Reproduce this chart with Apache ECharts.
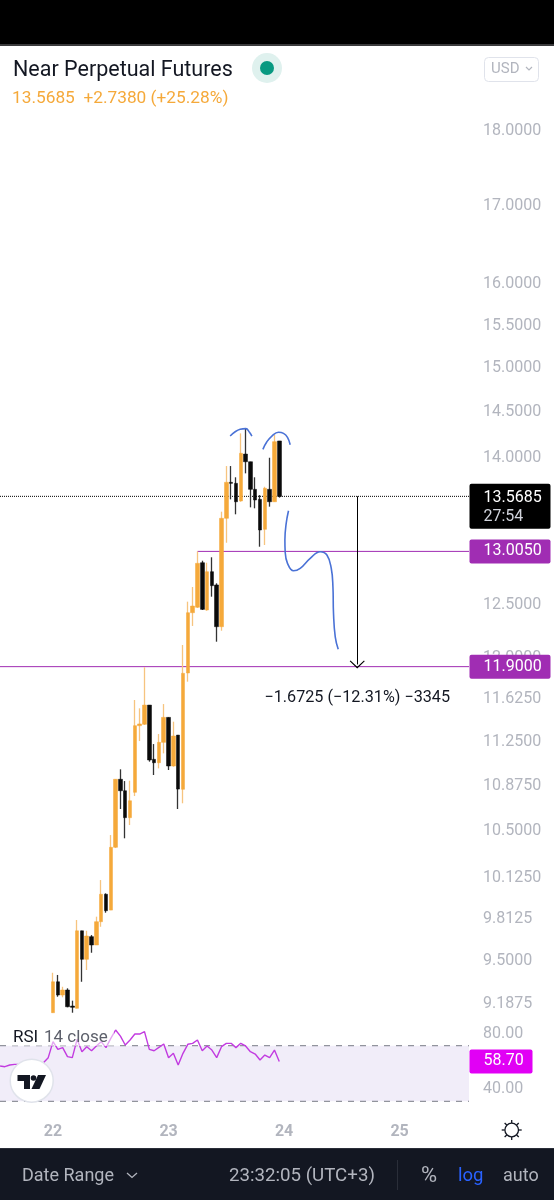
<!DOCTYPE html>
<html><head><meta charset="utf-8">
<script src="https://cdn.jsdelivr.net/npm/echarts@6/dist/echarts.min.js"></script>
<style>html,body{margin:0;padding:0;background:#fff}#c{width:554px;height:1200px}</style>
</head><body><div id="c"></div>
<script>
// Hourly candles; hour 0 = day 22 00:00
const opens  = [9.115,9.335,9.240,9.276,9.162,9.146,9.709,9.498,9.665,9.603,9.777,9.986,9.865,10.354,10.911,10.815,10.593,10.802,11.371,11.383,11.553,11.080,11.051,11.226,11.444,11.023,11.289,10.827,11.842,12.405,12.457,12.892,12.431,12.803,12.673,12.272,13.341,13.716,13.705,13.520,14.018,13.935,13.642,13.537,13.228,13.642,13.512,14.160];
const closes = [9.335,9.240,9.276,9.157,9.153,9.709,9.498,9.670,9.603,9.777,9.986,9.860,10.354,10.911,10.815,10.593,10.732,11.371,11.386,11.553,11.074,11.051,11.226,11.444,11.023,11.281,10.829,11.839,12.405,12.469,12.886,12.437,12.803,12.666,12.272,13.341,13.716,13.705,13.512,14.026,13.935,13.642,13.530,13.221,13.653,13.512,14.152,13.5685];
const lows   = [9.115,9.228,9.224,9.153,9.115,9.146,9.335,9.420,9.546,9.603,9.739,9.845,9.865,10.348,10.664,10.426,10.533,10.771,11.237,11.377,11.060,10.947,11.003,11.131,10.989,11.017,10.664,10.711,11.763,12.279,12.450,12.431,12.424,12.559,12.131,12.234,13.092,13.537,13.382,13.512,13.811,13.454,13.444,13.052,13.069,13.461,13.512,13.555];
const highs  = [9.400,9.384,9.299,9.288,9.200,9.790,9.709,9.709,9.677,9.815,10.096,9.993,10.452,10.911,10.995,10.896,10.899,11.598,11.524,11.894,11.553,11.211,11.298,11.562,11.444,11.406,11.289,12.100,12.511,12.653,13.005,12.912,12.892,12.946,12.689,13.409,13.889,13.889,13.769,14.243,14.298,13.935,13.769,13.582,13.669,13.978,14.225,14.160];

// RSI starts 11 hours before the first visible candle
const rsiStartHour = -11;
const rsiValues = [55.4,54.9,56.1,56.6,56.6,56.1,56.1,55.4,56.1,57.8,61.4,72.9,67.4,68.6,62.1,61.4,74.6,65.7,69.3,66.4,69.8,72.9,68.6,75.3,81.3,76.9,70.5,74.1,78.4,78.4,80.1,67.4,66.4,68.8,71.2,61.4,64.5,56.1,64.5,71.0,71.7,74.1,66.4,69.8,66.9,61.4,69.3,71.7,71.7,68.6,71.7,69.8,65.7,64.0,59.7,63.3,61.4,66.9,58.7];

const priceTicks = [18,17,16,15.5,15,14.5,14,12.5,12,11.625,11.25,10.875,10.5,10.125,9.8125,9.5,9.1875];
const rsiTicks = [40,80];
const rsiBand = [30,70];
const dayLabels = ['22','23','24','25'];
const dayHours = [0,24,48,72];

const lastPrice = 13.5685;
const levelA = 13.005, levelAStartHour = 30;
const levelB = 11.9;
const measureHour = 63.2, measureEnd = 11.92, measureLabelPrice = 11.62;
const measureText = '\u22121.6725 (\u221212.31%) \u22123345';

// hand drawn strokes: hour / price
const strokeAHours = [36.8,37.84,38.88,40.06,40.81,41.31];
const strokeAPrices = [14.214,14.261,14.288,14.295,14.255,14.214];
const strokeBHours = [43.6,44.43,45.47,46.84,47.88,48.71,49.27];
const strokeBPrices = [14.069,14.152,14.214,14.255,14.243,14.200,14.119];
const strokeCHours = [48.92,48.44,48.17,48.23,48.71,49.96,51.35,53.43,55.51,56.9,57.8,58.15,58.27,58.63,59.25];
const strokeCPrices = [13.419,13.289,13.120,13.002,12.886,12.813,12.837,12.936,13.002,12.969,12.837,12.656,12.399,12.177,12.060];

const hourMin = -11.02, hourMax = 86.42;
const priceMin = 9.064, priceMax = 19.196;
const F = 'Roboto';
const UP = '#f5a93a', DOWN = '#0a0a0a', UPWICK = '#f6c47f', DOWNWICK = '#333333', GREY = '#b2b5be', INK = '#131722', BLUE = '#4a72d6', PURPLE = '#a02db3', MAGENTA = '#e100f5';

const zip = (a, b) => a.map((v, i) => [v, b[i]]);
const stroke = (a, b) => ({type:'line', xAxisIndex:0, yAxisIndex:0, data:zip(a,b), smooth:0.45, showSymbol:false, symbol:'none', silent:true, z:6,
  lineStyle:{color:BLUE, width:1.6}});
const flat = (xi, yi, x0, y, color, type) => ({type:'line', xAxisIndex:xi, yAxisIndex:yi, data:[[x0,y],[hourMax,y]], showSymbol:false, symbol:'none', silent:true, z:1,
  lineStyle:{color:color, type:type, width:1}});
const tag = (x, y, text, bg, w, extra) => Object.assign({
  coord:[x, y], symbol:'rect', symbolSize:1, itemStyle:{color:'transparent'},
  label:Object.assign({show:true, position:'right', distance:0, formatter:text, color:'#fff', fontFamily:F, fontSize:16,
    backgroundColor:bg, borderRadius:2, width:w, align:'left', lineHeight:18, padding:[5,0,1,14]}, extra||{})
}, {});
const blackLine = {color:'#000', type:'solid', width:1};
const axisRich = {a:{color:GREY, fontSize:16, fontFamily:F, padding:[4,0,0,0]}};

const chart = echarts.init(document.getElementById('c'), null, {renderer:'canvas', width:554, height:1200});
chart.setOption({
  animation:false,
  backgroundColor:'#fff',
  textStyle:{fontFamily:F},
  grid:[
    {left:0, width:469, top:46, height:974},
    {left:0, width:469, top:1017.9, height:125.1}
  ],
  xAxis:[
    {type:'value', gridIndex:0, min:hourMin, max:hourMax, show:false, splitLine:{show:false}},
    {type:'value', gridIndex:1, min:hourMin, max:hourMax, axisLine:{show:false}, axisTick:{show:false}, splitLine:{show:false},
      axisLabel:{inside:true, margin:3, customValues:dayHours, formatter:v=>dayLabels[dayHours.indexOf(v)]||'', color:GREY, fontSize:16, fontWeight:'bold', fontFamily:F}}
  ],
  yAxis:[
    {type:'log', gridIndex:0, position:'right', logBase:10, min:priceMin, max:priceMax, axisLine:{show:false}, axisTick:{show:false}, splitLine:{show:false}, minorSplitLine:{show:false},
      axisLabel:{customValues:priceTicks, formatter:v=>'{a|'+Number(v).toFixed(4)+'}', rich:axisRich, margin:14, hideOverlap:false}},
    {type:'value', gridIndex:1, position:'right', min:0, max:90, axisLine:{show:false}, axisTick:{show:false}, splitLine:{show:false},
      axisLabel:{customValues:rsiTicks, formatter:v=>'{a|'+Number(v).toFixed(2)+'}', rich:axisRich, margin:14}}
  ],
  series:[
    flat(0,0,levelAStartHour,levelA,PURPLE,'solid'),
    flat(0,0,hourMin,levelB,PURPLE,'solid'),
    flat(0,0,hourMin,lastPrice,'#000','dotted'),
    // wicks
    {type:'candlestick', xAxisIndex:0, yAxisIndex:0, barWidth:1, z:2,
      encode:{x:0, y:[1,2,3,4]},
      data:opens.map((o,i)=>[i,o,closes[i],lows[i],highs[i]]),
      itemStyle:{color:UPWICK, color0:DOWNWICK, borderColor:UPWICK, borderColor0:DOWNWICK, borderWidth:1.3}
    },
    // bodies
    {type:'candlestick', xAxisIndex:0, yAxisIndex:0, barWidth:4, z:3,
      encode:{x:0, y:[1,2,3,4]},
      data:opens.map((o,i)=>[i,o,closes[i],Math.min(o,closes[i]),Math.max(o,closes[i])]),
      itemStyle:{color:UP, color0:DOWN, borderColor:UP, borderColor0:DOWN, borderWidth:0.5},
      markLine:{silent:true, symbol:'none', animation:false, label:{show:false},
        data:[
          [{coord:[measureHour,lastPrice], lineStyle:blackLine, symbol:'none'},
           {coord:[measureHour,measureEnd], lineStyle:blackLine, symbol:'path://M0,9 L10,0 L20,9 L19,10 L10,2 L1,10 Z', symbolSize:[15,8]}]
        ]},
      markPoint:{silent:true, animation:false, data:[
        tag(hourMax,lastPrice,'13.5685\n{t|27:54}','#000',67,{offset:[0,10],padding:[5,0,2,14],lineHeight:18,rich:{t:{color:'#d1d4dc',fontSize:16,fontFamily:F,lineHeight:20}}}),
        tag(hourMax,levelA,'13.0050',PURPLE,67),
        tag(hourMax,levelB,'11.9000',PURPLE,67),
        {coord:[measureHour,measureLabelPrice], symbol:'rect', symbolSize:1, itemStyle:{color:'transparent'},
          label:{show:true, position:'inside', formatter:measureText, color:INK, fontFamily:F, fontSize:16.2}}
      ]}
    },
    stroke(strokeAHours,strokeAPrices),
    stroke(strokeBHours,strokeBPrices),
    stroke(strokeCHours,strokeCPrices),
    flat(1,1,hourMin,rsiBand[1],'#787b86',[6,6]),
    flat(1,1,hourMin,rsiBand[0],'#787b86',[6,6]),
    {type:'line', xAxisIndex:1, yAxisIndex:1, data:rsiValues.map((v,i)=>[rsiStartHour+i,v]), showSymbol:false, symbol:'none', silent:true,
      lineStyle:{color:'#c23be0', width:1.4}, z:3,
      markArea:{silent:true, itemStyle:{color:'#f1edf9'}, data:[[{yAxis:rsiBand[1]},{yAxis:rsiBand[0]}]]},
      markPoint:{silent:true, data:[tag(hourMax,58.7,'58.70',MAGENTA,49)]}
    }
  ],
  graphic:[
    {type:'rect', z:50, shape:{x:0,y:0,width:554,height:44}, style:{fill:'#000'}},
    {type:'rect', z:50, shape:{x:0,y:44,width:554,height:2}, style:{fill:'#3a3a3c'}},
    {type:'text', z:50, style:{x:13,y:70.5,text:'Near Perpetual Futures',fill:INK,font:'21.5px Roboto',textVerticalAlign:'middle'}},
    {type:'text', z:50, style:{x:12,y:98.5,text:'13.5685  +2.7380 (+25.28%)',fill:UP,font:'17.3px Roboto',textVerticalAlign:'middle'}},
    {type:'circle', z:50, shape:{cx:267,cy:68,r:15}, style:{fill:'#dff1ee'}},
    {type:'circle', z:50, shape:{cx:267,cy:68,r:7}, style:{fill:'#089981'}},
    {type:'rect', z:50, shape:{x:484.5,y:57.5,width:54,height:24,r:4}, style:{fill:'#fff',stroke:'#e0e3eb',lineWidth:1}},
    {type:'text', z:50, style:{x:491,y:69,text:'USD',fill:GREY,font:'15px Roboto',textVerticalAlign:'middle'}},
    {type:'polyline', z:50, shape:{points:[[526,67],[529,70],[532,67]]}, style:{fill:'none',stroke:GREY,lineWidth:1.2}},
    {type:'rect', z:49, shape:{x:10,y:1026,width:104,height:20}, style:{fill:'rgba(255,255,255,0.55)'}},
    {type:'text', z:50, style:{x:13,y:1038,text:'RSI',fill:INK,font:'17px Roboto',textVerticalAlign:'middle'}},
    {type:'text', z:50, style:{x:44,y:1038,text:'14 close',fill:'#5d606b',font:'17px Roboto',textVerticalAlign:'middle'}},
    {type:'circle', z:50, shape:{cx:31.7,cy:1080.7,r:21.5}, style:{fill:'#fff',stroke:'#e0e3eb',lineWidth:1.5}},
    {type:'polygon', z:51, shape:{points:[[17.5,1075],[30,1075],[30,1089],[24,1089],[24,1081],[17.5,1081]]}, style:{fill:'#131722'}},
    {type:'circle', z:51, shape:{cx:33.5,cy:1078,r:2.8}, style:{fill:'#131722'}},
    {type:'polygon', z:51, shape:{points:[[38,1075],[46,1075],[39.5,1089],[31.5,1089]]}, style:{fill:'#131722'}},
    {type:'circle', z:50, shape:{cx:511.7,cy:1130,r:6.8}, style:{fill:'#fff',stroke:'#131722',lineWidth:1.3}},
    {type:'group', z:50, children:[[0,-1],[0,1],[1,0],[-1,0],[.707,.707],[-.707,.707],[.707,-.707],[-.707,-.707]].map(d=>({
      type:'line', z:50, shape:{x1:511.7+d[0]*7,y1:1130+d[1]*7,x2:511.7+d[0]*10,y2:1130+d[1]*10}, style:{stroke:'#131722',lineWidth:1.3}}))},
    {type:'rect', z:50, shape:{x:0,y:1148,width:554,height:52}, style:{fill:'#131722'}},
    {type:'rect', z:50, shape:{x:0,y:1148,width:554,height:1}, style:{fill:'#2a2e39'}},
    {type:'text', z:51, style:{x:22,y:1176,text:'Date Range',fill:'#b2b5be',font:'18px Roboto',textVerticalAlign:'middle'}},
    {type:'polyline', z:51, shape:{points:[[127,1173],[132,1177.5],[137,1173]]}, style:{fill:'none',stroke:'#b2b5be',lineWidth:1.3}},
    {type:'text', z:51, style:{x:229,y:1176,text:'23:32:05 (UTC+3)',fill:'#b2b5be',font:'18.7px Roboto',textVerticalAlign:'middle'}},
    {type:'rect', z:51, shape:{x:397,y:1160,width:1,height:30}, style:{fill:'#2a2e39'}},
    {type:'text', z:51, style:{x:421,y:1176,text:'%',fill:'#b2b5be',font:'22px Roboto',textVerticalAlign:'middle'}},
    {type:'text', z:51, style:{x:458,y:1176,text:'log',fill:'#2962ff',font:'18.5px Roboto',textVerticalAlign:'middle'}},
    {type:'text', z:51, style:{x:503,y:1176,text:'auto',fill:'#b2b5be',font:'18px Roboto',textVerticalAlign:'middle'}}
  ]
});
</script></body></html>
